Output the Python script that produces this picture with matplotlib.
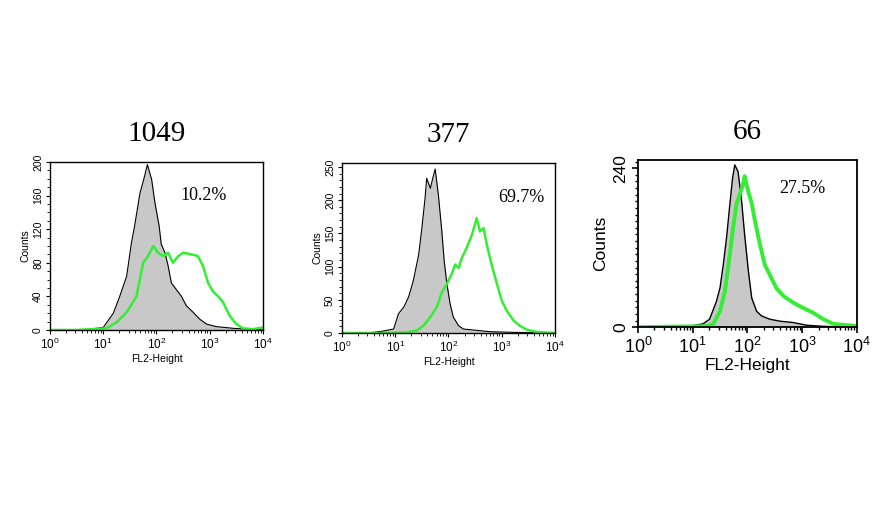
import numpy as np
import matplotlib
matplotlib.use("Agg")
import matplotlib.pyplot as plt
from matplotlib.ticker import MultipleLocator, FixedLocator, LogLocator, LogFormatterMathtext, NullFormatter

plt.rcParams['font.family'] = ['Liberation Sans', 'DejaVu Sans']
plt.rcParams['mathtext.fontset'] = 'custom'
plt.rcParams['mathtext.rm'] = 'Liberation Sans'
plt.rcParams['mathtext.default'] = 'regular'

# sample names and % positive
titles = ['1049', '377', '66']
percents = ['10.2%', '69.7%', '27.5%']

# FL2-Height positions as decades (10**x), counts
# 1049
ctrl1_log = [0.0, 0.5, 0.75, 1.0, 1.19, 1.31, 1.44, 1.53, 1.59, 1.69, 1.76, 1.83, 1.91, 1.97, 2.05,
             2.09, 2.16, 2.22, 2.28, 2.375, 2.47, 2.56, 2.69, 2.81, 2.94, 3.125, 3.44, 3.7, 4.0]
ctrl1_cnt = [0, 0, 1, 3, 20, 40, 64, 104, 124, 163, 179, 197, 179, 152, 124,
             102, 92, 76, 56, 48, 40, 29, 21, 13, 7, 4, 2, 1, 0]
stain1_log = [0.0, 0.5, 0.8, 1.06, 1.25, 1.44, 1.625, 1.75, 1.84, 1.94, 2.03, 2.125, 2.22, 2.31,
              2.41, 2.5, 2.66, 2.78, 2.875, 2.97, 3.06, 3.16, 3.25, 3.375, 3.5, 3.625, 3.81, 4.0]
stain1_cnt = [0, 0, 1, 2, 9, 21, 40, 80, 88, 100, 92, 88, 92, 80,
              88, 92, 90, 88, 76, 56, 46, 40, 33, 17, 7, 2, 1, 3]

# 377
ctrl2_log = [0.0, 0.5, 0.78, 0.97, 1.06, 1.16, 1.25, 1.34, 1.44, 1.5, 1.56, 1.59, 1.66, 1.71,
             1.75, 1.81, 1.875, 1.92, 1.97, 2.03, 2.09, 2.19, 2.28, 2.53, 2.78, 3.2, 4.0]
ctrl2_cnt = [0, 0, 3, 6, 29, 39, 54, 79, 118, 158, 203, 233, 218, 235,
             247, 208, 153, 108, 74, 44, 24, 11, 6, 4, 2, 1, 0]
stain2_log = [0.0, 0.9, 1.22, 1.41, 1.53, 1.66, 1.78, 1.875, 1.97, 2.06, 2.125, 2.19, 2.25, 2.34,
              2.44, 2.53, 2.59, 2.66, 2.72, 2.81, 2.91, 3.0, 3.09, 3.22, 3.34, 3.47, 3.66, 4.0]
stain2_cnt = [0, 0, 1, 4, 11, 24, 39, 61, 74, 89, 103, 98, 113, 128,
              148, 173, 153, 158, 133, 103, 74, 49, 34, 19, 11, 5, 1.5, 0]

# 66
ctrl3_log = [0.0, 0.95, 1.19, 1.31, 1.435, 1.5, 1.56, 1.62, 1.68, 1.73, 1.77, 1.83, 1.89, 1.95,
             2.02, 2.08, 2.17, 2.26, 2.41, 2.6, 2.84, 3.08, 3.33, 3.8, 4.0]
ctrl3_cnt = [0, 1.5, 5, 12, 39, 59, 94, 135, 185, 225, 245, 235, 195, 140,
             84, 44, 24, 17, 12, 9, 7, 3, 1.5, 0, 0]
stain3_log = [0.0, 1.25, 1.37, 1.5, 1.59, 1.68, 1.74, 1.8, 1.86, 1.92, 1.95, 2.015, 2.08,
              2.14, 2.23, 2.32, 2.41, 2.53, 2.66, 2.84, 3.02, 3.2, 3.39, 3.57, 3.82, 4.0]
stain3_cnt = [0, 1.5, 4, 24, 54, 110, 150, 185, 200, 215, 228, 205, 187,
              160, 125, 94, 79, 59, 47, 37, 29, 22, 12, 5, 3, 2]

ctrl_log = [ctrl1_log, ctrl2_log, ctrl3_log]
ctrl_cnt = [ctrl1_cnt, ctrl2_cnt, ctrl3_cnt]
stain_log = [stain1_log, stain2_log, stain3_log]
stain_cnt = [stain1_cnt, stain2_cnt, stain3_cnt]

fig = plt.figure(figsize=(8.86, 5.12), dpi=100)

# panel boxes (left, bottom, width, height) in figure fractions
boxes = [[0.0564, 0.3555, 0.2404, 0.328],
         [0.386, 0.3496, 0.2404, 0.332],
         [0.720, 0.361, 0.247, 0.326]]
ymax = [200, 256, 252]
ymajor = [[0, 40, 80, 120, 160, 200], [0, 50, 100, 150, 200, 250], [0, 240]]
big = [False, False, True]
pct_xy = [(0.72, 0.8), (0.84, 0.8), (0.75, 0.83)]

for i in range(3):
    ax = fig.add_axes(boxes[i])
    fs = 12.5 if big[i] else 7.5
    glw = 2.8 if big[i] else 1.8
    x_c = 10 ** np.array(ctrl_log[i])
    x_s = 10 ** np.array(stain_log[i])
    ax.fill_between(x_c, ctrl_cnt[i], color='#c8c8c8', lw=0)
    ax.plot(x_c, ctrl_cnt[i], color='black', lw=1.0 if big[i] else 0.8)
    ax.plot(x_s, stain_cnt[i], color='#33ee33', lw=glw)
    ax.set_xscale('log')
    ax.set_xlim(1, 1e4)
    ax.set_ylim(0, ymax[i])
    ax.xaxis.set_major_locator(LogLocator(base=10, numticks=10))
    ax.xaxis.set_major_formatter(LogFormatterMathtext())
    ax.xaxis.set_minor_locator(LogLocator(base=10, subs=np.arange(2, 10), numticks=20))
    ax.xaxis.set_minor_formatter(NullFormatter())
    ax.yaxis.set_major_locator(FixedLocator(ymajor[i]))
    ax.yaxis.set_minor_locator(MultipleLocator(10))
    ax.tick_params(which='major', direction='out', length=4 if big[i] else 3,
                   width=1.2 if big[i] else 0.8, labelsize=fs, pad=3 if big[i] else 2)
    ax.tick_params(axis='x', labelsize=13 if big[i] else 8.5)
    ax.tick_params(which='minor', direction='out', length=2.5 if big[i] else 2,
                   width=1.0 if big[i] else 0.6)
    for lab in ax.get_yticklabels():
        lab.set_rotation(90)
        lab.set_va('center')
    for s in ax.spines.values():
        s.set_linewidth(1.3 if big[i] else 1.0)
    ax.set_xlabel('FL2-Height', fontsize=fs, labelpad=1)
    ax.set_ylabel('Counts', fontsize=fs, labelpad=4 if big[i] else 2)
    ax.set_title(titles[i], fontsize=21, family=['Liberation Serif'], pad=15)
    ax.text(pct_xy[i][0], pct_xy[i][1], percents[i], transform=ax.transAxes,
            ha='center', va='center', fontsize=13, family=['Liberation Serif'])

fig.savefig('out.png', dpi=100)
